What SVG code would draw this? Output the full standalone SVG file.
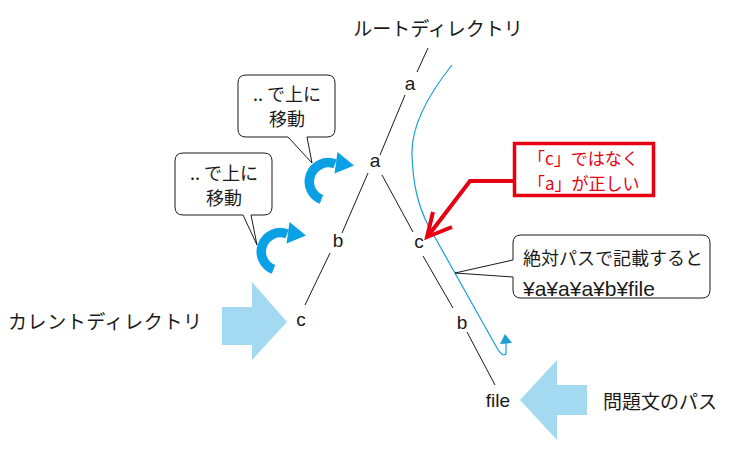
<svg xmlns="http://www.w3.org/2000/svg" width="733" height="457" viewBox="0 0 733 457">
<style>
.t{font-family:"Noto Sans CJK JP","Noto Sans",sans-serif;fill:#1a1a1a;dominant-baseline:central}
.l{font-family:"Liberation Sans",Arial,sans-serif;font-size:19px;fill:#1a1a1a;dominant-baseline:central;text-anchor:middle}
.ln{stroke:#1a1a1a;stroke-width:1;fill:none}
.box{fill:#fff;stroke:#1a1a1a;stroke-width:1}
.big{fill:#a3d9f1}
.red{stroke:#e60012;fill:none}
</style>
<defs>
<g id="carrow">
<path d="M321.5,199.4 A19,19 0 1 1 335.1,163.9" fill="none" stroke="#0aa0e6" stroke-width="9.5"/>
<polygon points="337.5,152 354,165.5 334.5,173.5" fill="#0aa0e6"/>
</g>
</defs>
<rect width="733" height="457" fill="#fff"/>
<g id="connectors">
<line class="ln" x1="428" y1="48" x2="417" y2="72"/>
<line class="ln" x1="405" y1="95" x2="380" y2="155"/>
<line class="ln" x1="368" y1="173" x2="342" y2="233"/>
<line class="ln" x1="330" y1="253" x2="305" y2="305"/>
<line class="ln" x1="382" y1="175" x2="413" y2="232"/>
<line class="ln" x1="423" y1="256" x2="453" y2="308"/>
<line class="ln" x1="467" y1="332" x2="495" y2="385"/>
</g>
<g id="root"><text class="t" x="438" y="27" font-size="19" text-anchor="middle">ルートディレクトリ</text></g>
<g id="node-a1"><text class="l" x="410" y="83">a</text></g>
<g id="node-a2"><text class="l" x="375" y="160">a</text></g>
<g id="node-b1"><text class="l" x="338" y="240">b</text></g>
<g id="node-c1"><text class="l" x="301" y="319">c</text></g>
<g id="node-c2"><text class="l" x="419" y="241">c</text></g>
<g id="node-b2"><text class="l" x="462" y="322">b</text></g>
<g id="node-file"><text class="l" x="498" y="400">file</text></g>
<g id="path-curve">
<path d="M452,65 C428,95 411,125 412,155 C413,185 418,205 428,225 L497,348 Q502,357 506,354 L506,342" fill="none" stroke="#1a9fd6" stroke-width="1.2"/>
<polygon points="505,334 500,344 512,343" fill="#1a9fd6"/>
</g>
<g id="callout-up1">
<path class="box" d="M246,75 H327 Q335,75 335,83 V129 Q335,137 327,137 H307 L312,163 L288,137 H246 Q238,137 238,129 V83 Q238,75 246,75 Z"/>
<text class="t" x="287" y="93" font-size="18" text-anchor="middle">.. で上に</text>
<text class="t" x="287" y="118" font-size="18" text-anchor="middle">移動</text>
<use href="#carrow"/>
</g>
<g id="callout-up2">
<path class="box" d="M183,153 H264 Q272,153 272,161 V207 Q272,215 264,215 H251 L257,245 L243,215 H183 Q175,215 175,207 V161 Q175,153 183,153 Z"/>
<text class="t" x="224" y="172" font-size="18" text-anchor="middle">.. で上に</text>
<text class="t" x="224" y="197" font-size="18" text-anchor="middle">移動</text>
<use href="#carrow" transform="translate(-48,70)"/>
</g>
<g id="current">
<text class="t" x="8" y="320" font-size="19" textLength="194" lengthAdjust="spacing">カレントディレクトリ</text>
<polygon class="big" points="222,307 252,307 252,282 287,322 252,360 252,345 222,345"/>
</g>
<g id="problem">
<polygon class="big" points="587,385 557,385 557,360 520,400 557,440 557,415 587,415"/>
<text class="t" x="603" y="400" font-size="19">問題文のパス</text>
</g>
<g id="note-red">
<rect x="514.5" y="143.5" width="139" height="52" fill="#fff" stroke="#e60012" stroke-width="3.5"/>
<text class="t" x="528" y="157" font-size="17" style="fill:#e60012">「c」ではなく</text>
<text class="t" x="528" y="182" font-size="17" style="fill:#e60012">「a」が正しい</text>
<polyline class="red" points="513,181 470,181 428,236" stroke-width="4"/>
<polyline class="red" points="433,212 427,237 452,227" stroke-width="4"/>
</g>
<g id="callout-abs">
<path class="box" d="M521,235 H702 Q710,235 710,243 V290 Q710,298 702,298 H521 Q513,298 513,290 V277 L455,273 L513,260 V243 Q513,235 521,235 Z"/>
<text class="t" x="523" y="257" font-size="18">絶対パスで記載すると</text>
<text x="523" y="288" font-family="Liberation Sans, Arial, sans-serif" font-size="21" fill="#1a1a1a" dominant-baseline="central">¥a¥a¥a¥b¥file</text>
</g>
</svg>
